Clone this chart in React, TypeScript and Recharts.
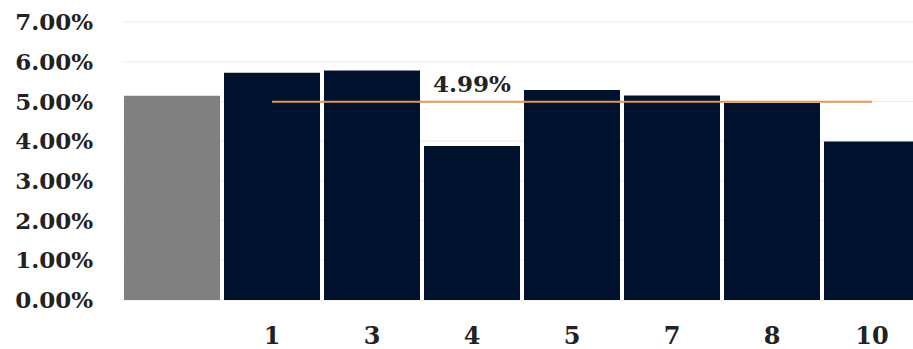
import { ComposedChart, Bar, Line, XAxis, YAxis, CartesianGrid, Cell, LabelList } from 'recharts'

const categories = ['', '1', '3', '4', '5', '7', '8', '10']
const rates = [5.14, 5.72, 5.78, 3.88, 5.29, 5.15, 4.96, 3.99]
const average = 4.99
const averageLabelAt = '4'
const yTicks = [0, 1, 2, 3, 4, 5, 6, 7]

const NAVY = '#01122f'
const GRAY = '#808080'
const ORANGE = '#e8944f'
const FONT = '"DejaVu Serif", serif'

const data = categories.map((name, i) => ({
  name,
  rate: rates[i],
  avg: name === '' ? null : average,
}))

const pct = (v: number) => `${v.toFixed(2)}%`

function AvgLabel(props: any) {
  const { x, y, index } = props
  if (data[index]?.name !== averageLabelAt) return null
  return (
    <text x={x} y={y - 10} textAnchor="middle" fontFamily={FONT} fontWeight="bold" fontSize={23} fill="#222">
      {pct(average)}
    </text>
  )
}

export default function App() {
  return (
    <div style={{ position: 'fixed', left: 0, top: 0, width: 913, height: 349, overflow: 'hidden', background: '#fff' }}>
      <ComposedChart
        width={930}
        height={349}
        data={data}
        margin={{ top: 22, right: 8, bottom: 0, left: 0 }}
        barCategoryGap="2%"
      >
        <CartesianGrid vertical={false} stroke="#ececec" />
        <XAxis
          dataKey="name"
          axisLine={false}
          tickLine={false}
          tickSize={0}
          tickMargin={27}
          height={49}
          interval={0}
          tick={{ fontFamily: FONT, fontWeight: 'bold', fontSize: 24, fill: '#222' }}
        />
        <YAxis
          domain={[0, 7]}
          ticks={yTicks}
          axisLine={false}
          tickLine={false}
          tickSize={0}
          tickMargin={29}
          width={122}
          tickFormatter={pct}
          tick={{ fontFamily: FONT, fontWeight: 'bold', fontSize: 23, fill: '#222' }}
        />
        <Bar dataKey="rate" isAnimationActive={false}>
          {data.map((d) => (
            <Cell key={d.name || 'base'} fill={d.name === '' ? GRAY : NAVY} />
          ))}
        </Bar>
        <Line dataKey="avg" stroke={ORANGE} strokeWidth={2} dot={false} isAnimationActive={false}>
          <LabelList dataKey="avg" content={<AvgLabel />} />
        </Line>
      </ComposedChart>
    </div>
  )
}
